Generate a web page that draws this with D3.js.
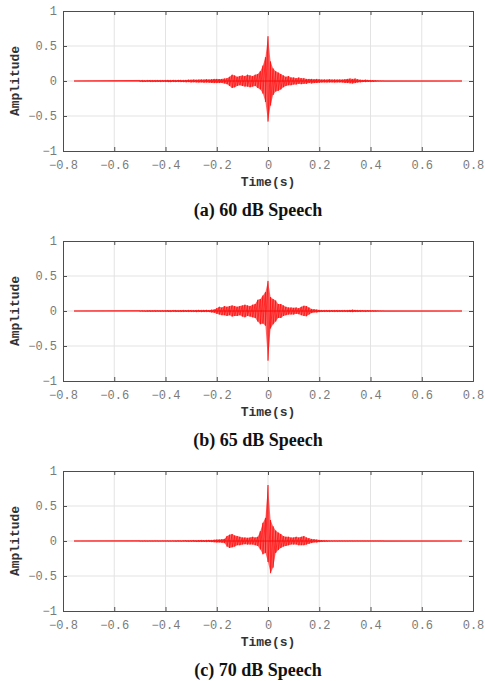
<!DOCTYPE html>
<html>
<head>
<meta charset="utf-8">
<script src="https://cdn.jsdelivr.net/npm/d3@7"></script>
<style>
  body { margin: 0; background: white; }
</style>
</head>
<body>
<div class="graph-container"></div>
<script>
// TIME GRID (s) - the envelope is read every 10 ms where the signal is active
var times = [-0.757,
  -0.50, -0.49, -0.48, -0.47, -0.46, -0.45, -0.44, -0.43, -0.42, -0.41,
  -0.40, -0.39, -0.38, -0.37, -0.36, -0.35, -0.34, -0.33, -0.32, -0.31,
  -0.30, -0.29, -0.28, -0.27, -0.26, -0.25, -0.24, -0.23, -0.22, -0.21,
  -0.20, -0.19, -0.18, -0.17, -0.16, -0.15, -0.14, -0.13, -0.12, -0.11,
  -0.10, -0.09, -0.08, -0.07, -0.06, -0.05, -0.04, -0.03, -0.02, -0.01,
  0.00, 0.01, 0.02, 0.03, 0.04, 0.05, 0.06, 0.07, 0.08, 0.09,
  0.10, 0.11, 0.12, 0.13, 0.14, 0.15, 0.16, 0.17, 0.18, 0.19,
  0.20, 0.21, 0.22, 0.23, 0.24, 0.25, 0.26, 0.27, 0.28, 0.29,
  0.30, 0.31, 0.32, 0.33, 0.34, 0.35, 0.36, 0.37, 0.38, 0.39,
  0.40, 0.41, 0.42, 0.43, 0.44, 0.45,
  0.757];

// 60 dB
var upper60 = [0,
  0.008, 0.01, 0.008, 0.01, 0.012, 0.01, 0.01, 0.012, 0.01, 0.012,
  0.012, 0.015, 0.012, 0.015, 0.012, 0.015, 0.015, 0.012, 0.015, 0.018,
  0.018, 0.02, 0.018, 0.02, 0.022, 0.02, 0.025, 0.022, 0.025, 0.03,
  0.03, 0.028, 0.03, 0.035, 0.04, 0.06, 0.09, 0.08, 0.06, 0.07,
  0.08, 0.07, 0.09, 0.08, 0.07, 0.09, 0.1, 0.14, 0.22, 0.34,
  0.64, 0.28, 0.18, 0.14, 0.12, 0.1, 0.08, 0.06, 0.07, 0.05,
  0.05, 0.04, 0.05, 0.04, 0.04, 0.03, 0.03, 0.03, 0.025, 0.03,
  0.025, 0.02, 0.022, 0.02, 0.025, 0.02, 0.022, 0.02, 0.022, 0.02,
  0.025, 0.03, 0.035, 0.03, 0.035, 0.025, 0.018, 0.015, 0.018, 0.015,
  0.012, 0.01, 0.008, 0.005, 0.003, 0.002,
  0];
var lower60 = [0,
  -0.008, -0.01, -0.01, -0.008, -0.012, -0.01, -0.012, -0.01, -0.012, -0.01,
  -0.012, -0.015, -0.015, -0.012, -0.015, -0.012, -0.015, -0.015, -0.018, -0.015,
  -0.02, -0.018, -0.02, -0.022, -0.02, -0.025, -0.022, -0.025, -0.028, -0.03,
  -0.03, -0.03, -0.028, -0.035, -0.045, -0.07, -0.1, -0.09, -0.07, -0.06,
  -0.07, -0.08, -0.08, -0.09, -0.08, -0.07, -0.1, -0.12, -0.18, -0.3,
  -0.58, -0.35, -0.2, -0.15, -0.14, -0.12, -0.09, -0.07, -0.06, -0.06,
  -0.05, -0.05, -0.04, -0.045, -0.04, -0.04, -0.03, -0.035, -0.03, -0.028,
  -0.025, -0.022, -0.02, -0.022, -0.02, -0.02, -0.022, -0.02, -0.02, -0.022,
  -0.028, -0.03, -0.032, -0.035, -0.03, -0.022, -0.018, -0.015, -0.015, -0.012,
  -0.012, -0.01, -0.006, -0.004, -0.003, -0.002,
  0];

// 65 dB
var upper65 = [0,
  0.005, 0.006, 0.005, 0.006, 0.008, 0.006, 0.008, 0.008, 0.006, 0.008,
  0.008, 0.01, 0.008, 0.01, 0.01, 0.008, 0.01, 0.012, 0.01, 0.012,
  0.012, 0.01, 0.012, 0.015, 0.012, 0.015, 0.015, 0.012, 0.018, 0.022,
  0.04, 0.06, 0.05, 0.07, 0.06, 0.07, 0.08, 0.07, 0.06, 0.07,
  0.08, 0.09, 0.08, 0.07, 0.09, 0.1, 0.16, 0.17, 0.22, 0.27,
  0.43, 0.2, 0.17, 0.15, 0.1, 0.1, 0.08, 0.06, 0.05, 0.05,
  0.045, 0.05, 0.04, 0.06, 0.075, 0.07, 0.05, 0.03, 0.025, 0.02,
  0.015, 0.012, 0.01, 0.012, 0.01, 0.012, 0.01, 0.012, 0.01, 0.01,
  0.012, 0.01, 0.015, 0.018, 0.015, 0.012, 0.01, 0.01, 0.008, 0.01,
  0.008, 0.008, 0.006, 0.005, 0.003, 0.002,
  0];
var lower65 = [0,
  -0.005, -0.005, -0.006, -0.006, -0.008, -0.006, -0.008, -0.006, -0.008, -0.008,
  -0.008, -0.01, -0.01, -0.008, -0.01, -0.01, -0.012, -0.01, -0.012, -0.01,
  -0.012, -0.012, -0.015, -0.012, -0.015, -0.015, -0.012, -0.015, -0.02, -0.025,
  -0.04, -0.05, -0.06, -0.06, -0.07, -0.06, -0.08, -0.07, -0.07, -0.06,
  -0.08, -0.09, -0.07, -0.08, -0.09, -0.1, -0.15, -0.19, -0.18, -0.21,
  -0.71, -0.25, -0.19, -0.15, -0.1, -0.1, -0.07, -0.06, -0.05, -0.05,
  -0.05, -0.04, -0.045, -0.06, -0.07, -0.075, -0.05, -0.03, -0.02, -0.02,
  -0.015, -0.012, -0.01, -0.01, -0.012, -0.01, -0.01, -0.012, -0.01, -0.01,
  -0.01, -0.012, -0.015, -0.015, -0.012, -0.01, -0.01, -0.008, -0.01, -0.008,
  -0.008, -0.006, -0.006, -0.004, -0.003, -0.002,
  0];

// 70 dB
var upper70 = [0,
  0.003, 0.003, 0.004, 0.003, 0.004, 0.003, 0.004, 0.004, 0.003, 0.004,
  0.004, 0.005, 0.004, 0.005, 0.005, 0.006, 0.005, 0.006, 0.008, 0.006,
  0.008, 0.01, 0.008, 0.01, 0.012, 0.01, 0.012, 0.015, 0.012, 0.018,
  0.02, 0.022, 0.025, 0.03, 0.07, 0.09, 0.1, 0.08, 0.07, 0.06,
  0.05, 0.05, 0.045, 0.05, 0.06, 0.05, 0.06, 0.14, 0.26, 0.33,
  0.8, 0.3, 0.21, 0.15, 0.12, 0.1, 0.07, 0.06, 0.06, 0.05,
  0.05, 0.06, 0.05, 0.06, 0.07, 0.05, 0.04, 0.03, 0.025, 0.02,
  0.015, 0.01, 0.008, 0.006, 0.005, 0.004, 0.004, 0.003, 0.004, 0.003,
  0.003, 0.003, 0.003, 0.003, 0.002, 0.003, 0.002, 0.002, 0.002, 0.002,
  0.002, 0.002, 0.002, 0.002, 0.002, 0.002,
  0];
var lower70 = [0,
  -0.003, -0.004, -0.003, -0.004, -0.003, -0.004, -0.003, -0.004, -0.004, -0.003,
  -0.004, -0.005, -0.005, -0.004, -0.006, -0.005, -0.006, -0.005, -0.006, -0.008,
  -0.008, -0.008, -0.01, -0.01, -0.01, -0.012, -0.012, -0.012, -0.015, -0.018,
  -0.02, -0.02, -0.025, -0.03, -0.08, -0.1, -0.09, -0.08, -0.06, -0.06,
  -0.05, -0.045, -0.05, -0.05, -0.05, -0.06, -0.07, -0.12, -0.19, -0.17,
  -0.3, -0.46, -0.38, -0.17, -0.13, -0.1, -0.08, -0.07, -0.06, -0.05,
  -0.05, -0.05, -0.06, -0.06, -0.06, -0.05, -0.04, -0.03, -0.02, -0.02,
  -0.015, -0.01, -0.008, -0.006, -0.005, -0.004, -0.003, -0.004, -0.003, -0.003,
  -0.003, -0.003, -0.002, -0.003, -0.002, -0.002, -0.002, -0.002, -0.002, -0.002,
  -0.002, -0.002, -0.002, -0.002, -0.002, -0.002,
  0];

var xTicks = [-0.8, -0.6, -0.4, -0.2, 0, 0.2, 0.4, 0.6, 0.8];
var yTicks = [-1, -0.5, 0, 0.5, 1];
var captions = ["(a) 60 dB Speech", "(b) 65 dB Speech", "(c) 70 dB Speech"];
var uppers = [upper60, upper65, upper70];
var lowers = [lower60, lower65, lower70];

var W = 485, H = 681;
var margin = { left: 63, top: 11 },
    width = 410,
    height = 140,
    panelStep = 230;

var svg = d3.select(".graph-container").append("svg")
    .attr("width", W)
    .attr("height", H);

var x = d3.scaleLinear().domain([-0.8, 0.8]).range([0, width]);
var y = d3.scaleLinear().domain([-1, 1]).range([height, 0]);

var mono = "'Liberation Mono', 'Courier New', monospace";

captions.forEach(function (cap, p) {
    var g = svg.append("g")
        .attr("transform", "translate(" + margin.left + "," + (margin.top + p * panelStep) + ")");

    //GRID
    g.append("g").selectAll("line").data(xTicks.slice(1, -1)).enter().append("line")
        .attr("x1", d => x(d)).attr("x2", d => x(d))
        .attr("y1", 0).attr("y2", height)
        .attr("stroke", "#e3e3e3").attr("stroke-width", 1);
    g.append("g").selectAll("line").data(yTicks.slice(1, -1)).enter().append("line")
        .attr("y1", d => y(d)).attr("y2", d => y(d))
        .attr("x1", 0).attr("x2", width)
        .attr("stroke", "#e3e3e3").attr("stroke-width", 1);

    //SIGNAL
    var up = uppers[p], lo = lowers[p];
    var pts = [];
    times.forEach(function (t, i) {
        pts.push([t, up[i]]);
        pts.push([t, lo[i]]);
    });

    g.append("path")
        .datum(times.map((t, i) => [t, up[i], lo[i]]))
        .attr("fill", "#ff0000")
        .attr("fill-opacity", 0.6)
        .attr("d", d3.area().x(d => x(d[0])).y0(d => y(d[2])).y1(d => y(d[1])));

    g.append("path")
        .datum(pts)
        .attr("fill", "none")
        .attr("stroke", "#ff0000")
        .attr("stroke-width", 0.6)
        .attr("d", d3.line().x(d => x(d[0])).y(d => y(d[1])));

    g.append("line")
        .attr("x1", x(times[0])).attr("x2", x(times[times.length - 1]))
        .attr("y1", y(0)).attr("y2", y(0))
        .attr("stroke", "#ff0000").attr("stroke-width", 0.8);

    //AXES (box with inner ticks)
    var axisColor = "#4d4d4d";
    var xb = g.append("g").attr("transform", "translate(0," + height + ")")
        .call(d3.axisBottom(x).tickValues(xTicks).tickSize(-4).tickPadding(9).tickFormat(d3.format("")));
    var xt = g.append("g")
        .call(d3.axisTop(x).tickValues(xTicks).tickSize(-4).tickFormat(""));
    var yl = g.append("g")
        .call(d3.axisLeft(y).tickValues(yTicks).tickSize(-4).tickPadding(6).tickFormat(d3.format("")));
    var yr = g.append("g").attr("transform", "translate(" + width + ",0)")
        .call(d3.axisRight(y).tickValues(yTicks).tickSize(-4).tickFormat(""));

    [xb, xt, yl, yr].forEach(function (a) {
        a.select(".domain").attr("stroke", axisColor);
        a.selectAll(".tick line").attr("stroke", axisColor);
        a.selectAll("text")
            .attr("fill", "#7a7a7a")
            .style("font-family", mono)
            .style("font-size", "12px");
    });

    //LABELS
    g.append("text")
        .attr("x", x(0))
        .attr("y", height + 35)
        .attr("text-anchor", "middle")
        .style("font-family", mono)
        .style("font-weight", "bold")
        .style("font-size", "13px")
        .attr("fill", "#333")
        .text("Time(s)");

    g.append("text")
        .attr("transform", "translate(" + (19 - margin.left) + "," + (height / 2) + ") rotate(-90)")
        .attr("text-anchor", "middle")
        .style("font-family", mono)
        .style("font-weight", "bold")
        .style("font-size", "13px")
        .attr("fill", "#333")
        .text("Amplitude");

    svg.append("text")
        .attr("x", 258)
        .attr("y", margin.top + p * panelStep + 205)
        .attr("text-anchor", "middle")
        .style("font-family", "'Liberation Serif', 'DejaVu Serif', serif")
        .style("font-weight", "bold")
        .style("font-size", "18px")
        .attr("fill", "#111")
        .text(cap);
});
</script>
</body>
</html>
